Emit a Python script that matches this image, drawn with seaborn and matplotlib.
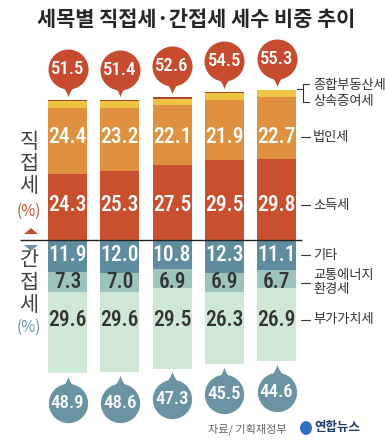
import matplotlib
matplotlib.use("Agg")
import matplotlib.pyplot as plt
from matplotlib.path import Path
from matplotlib.patches import Polygon, Circle
import numpy as np
import seaborn as sns

W, H = 385, 445

# ---- data (share of total tax revenue, %) ----
bars = [0, 1, 2, 3, 4]
direct_total = [51.5, 51.4, 52.6, 54.5, 55.3]
income_tax = [24.3, 25.3, 27.5, 29.5, 29.8]
corp_tax = [24.4, 23.2, 22.1, 21.9, 22.7]
estate_gift_tax = [2.5, 2.5, 2.3, 2.5, 2.5]
comp_realestate_tax = [0.3, 0.4, 0.7, 0.6, 0.3]
indirect_total = [48.9, 48.6, 47.3, 45.5, 44.6]
other_tax = [11.9, 12.0, 10.8, 12.3, 11.1]
transport_tax = [7.3, 7.0, 6.9, 6.9, 6.7]
vat = [29.6, 29.6, 29.5, 26.3, 26.9]

C = {
    "comp": "#a9462a", "estate": "#efc445", "corp": "#e0913f", "income": "#c8502f",
    "other": "#5f8d9f", "transport": "#9dc3bd", "vat": "#cfe8d5",
    "bub_top": "#c64b2f", "bub_bot": "#6a93a3", "text": "#333333",
}
NUM = ["Roboto Condensed", "DejaVu Sans"]
KR = ["Noto Sans CJK KR", "DejaVu Sans"]

# pixel layout of the reference
X0, DX = 67.5, 52.25     # first bar centre, bar spacing (px)
Y0, SY = 240.0, 2.72     # baseline (px from top), px per percent
BW = 39 / DX

sns.set_style("white")
fig = plt.figure(figsize=(W / 100, H / 100), dpi=100)
ax = fig.add_axes([0, 0, 1, 1])


def fp(x, y):
    return x / W, 1 - y / H


# stacked bars by overdrawing cumulative totals
d = np.array
top_layers = [
    (d(direct_total), C["comp"]),
    (d(direct_total) - d(comp_realestate_tax), C["estate"]),
    (d(income_tax) + d(corp_tax), C["corp"]),
    (d(income_tax), C["income"]),
]
bot_layers = [
    (-d(indirect_total), C["vat"]),
    (-(d(other_tax) + d(transport_tax)), C["transport"]),
    (-d(other_tax), C["other"]),
]
for vals, col in top_layers + bot_layers:
    sns.barplot(x=bars, y=vals, color=col, width=BW, saturation=1,
                errorbar=None, linewidth=0, ax=ax)

ax.set_xlim(-X0 / DX, (W - X0) / DX)
ax.set_ylim(-(H - Y0) / SY, Y0 / SY)
ax.axis("off")
ax.hlines(0, (20 - X0) / DX, (302 - X0) / DX, color="#222222", lw=1)

# segment value labels (fixed rows like the original)
rows = [
    (income_tax, (Y0 - 205) / SY, "white"),
    (corp_tax, (Y0 - 137) / SY, "white"),
    (other_tax, -(255 - Y0) / SY, "white"),
    (transport_tax, -(282 - Y0) / SY, C["text"]),
    (vat, -(320 - Y0) / SY, C["text"]),
]
for series, yrow, col in rows:
    for i, v in zip(bars, series):
        ax.text(i, yrow, f"{v:.1f}", ha="center", va="center", color=col,
                fontsize=15.5, family=NUM, fontweight="medium")

# speech bubbles with totals
tail_down = Path([(-8, 7), (-1, -1), (0, -7), (1, -1), (8, 7), (-8, 7)],
                 [Path.MOVETO, Path.CURVE3, Path.CURVE3, Path.CURVE3, Path.CURVE3, Path.CLOSEPOLY])
tail_up = Path([(-8, -7), (-1, 1), (0, 7), (1, 1), (8, -7), (-8, -7)],
               [Path.MOVETO, Path.CURVE3, Path.CURVE3, Path.CURVE3, Path.CURVE3, Path.CLOSEPOLY])
OFF, TAIL = 11.2, 3.6
top_tot = d(direct_total)
bot_tot = -d(indirect_total)
ax.scatter(bars, top_tot + TAIL, marker=tail_down, s=140, color=C["bub_top"], lw=0, zorder=4)
ax.scatter(bars, top_tot + OFF, marker="o", s=830, color=C["bub_top"], lw=0, zorder=5)
ax.scatter(bars, bot_tot - TAIL, marker=tail_up, s=140, color=C["bub_bot"], lw=0, zorder=4)
ax.scatter(bars, bot_tot - OFF, marker="o", s=800, color=C["bub_bot"], lw=0, zorder=5)
for i, v in zip(bars, direct_total):
    ax.text(i, v + OFF, f"{v:.1f}", ha="center", va="center", color="white",
            fontsize=13.5, family=NUM, fontweight="medium", zorder=6)
for i, v in zip(bars, indirect_total):
    ax.text(i, -v - OFF, f"{v:.1f}", ha="center", va="center", color="white",
            fontsize=13.5, family=NUM, fontweight="medium", zorder=6)

# title
fig.text(*fp(196, 19), "세목별 직접세·간접세 세수 비중 추이", ha="center", va="center",
         fontsize=15, fontweight="heavy", color="#262626", family=KR)

# left side labels
for ch, y in zip("직접세", [142, 164, 186]):
    fig.text(*fp(29, y), ch, ha="center", va="center", fontsize=15, color="#444444", family=KR)
fig.text(*fp(29, 211), "(%)", ha="center", va="center", fontsize=11, color=C["income"],
         family=KR, fontweight="light")
for ch, y in zip("간접세", [260, 283, 305]):
    fig.text(*fp(29, y), ch, ha="center", va="center", fontsize=15, color="#444444", family=KR)
fig.text(*fp(29, 327), "(%)", ha="center", va="center", fontsize=11, color=C["bub_bot"],
         family=KR, fontweight="light")
fig.add_artist(Polygon([fp(24, 234), fp(38, 234), fp(31, 228)], closed=True,
                       color=C["income"], lw=0, transform=fig.transFigure))
fig.add_artist(Polygon([fp(24, 245), fp(38, 245), fp(31, 251)], closed=True,
                       color=C["bub_bot"], lw=0, transform=fig.transFigure))

# right side legend labels with leader lines
def leader(xs, ys):
    fig.add_artist(plt.Line2D([x / W for x in xs], [1 - y / H for y in ys],
                              color="#333333", lw=0.8, transform=fig.transFigure))


leader([297, 303], [89, 89])
leader([309, 303, 303, 309], [84, 84, 102, 102])
labels = [
    ("종합부동산세", 85, False), ("상속증여세", 102, False), ("법인세", 137, True),
    ("소득세", 205, True), ("기타", 255, True), ("교통에너지\n환경세", 283, True),
    ("부가가치세", 320, True),
]
for txt, y, line in labels:
    if line:
        leader([301, 310], [y, y])
    fig.text(*fp(313, y), txt, ha="left", va="center", fontsize=9.5, color="#333333",
             family=KR, linespacing=1.1)

# source & logo
fig.text(*fp(247, 429), "자료/ 기획재정부", ha="center", va="center", fontsize=8,
         color="#666666", family=KR)
fig.add_artist(Circle(fp(306, 428), 6 / W, color="#2f6fc0", lw=0, transform=fig.transFigure))
fig.text(*fp(314, 428), "연합뉴스", ha="left", va="center", fontsize=9, fontweight="bold",
         color="#1d3a6e", family=KR)

fig.savefig("out.png", dpi=100)
